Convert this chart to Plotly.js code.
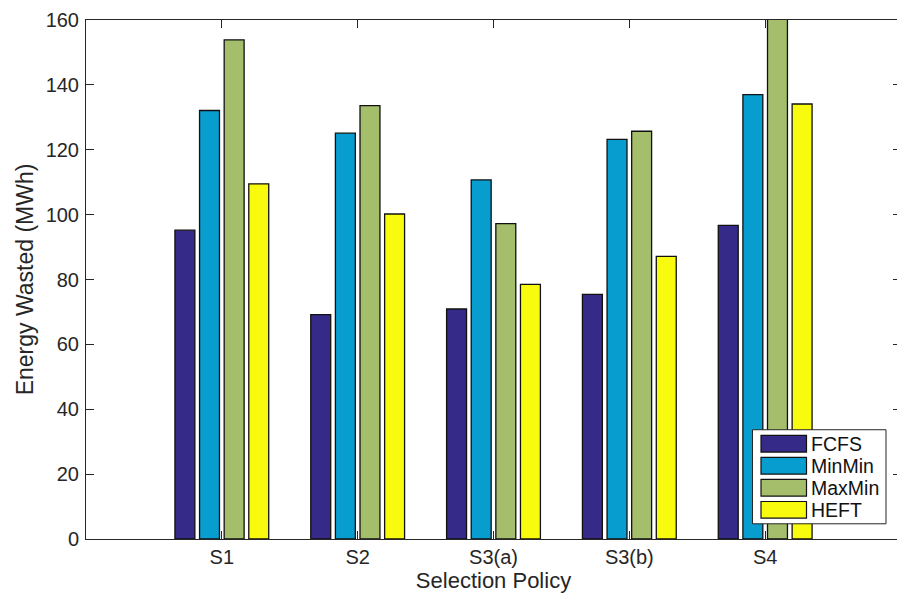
<!DOCTYPE html>
<html>
<head>
<meta charset="utf-8">
<script src="https://cdn.plot.ly/plotly-3.0.1.min.js"></script>
<style>
html,body{margin:0;padding:0;overflow:hidden;background:#fff;}
#chart{width:903px;height:594px;}
</style>
</head>
<body>
<div id="chart"></div>
<script>
const categories = ["S1", "S2", "S3(a)", "S3(b)", "S4"];
const seriesNames = ["FCFS", "MinMin", "MaxMin", "HEFT"];
const fcfs   = [95.2, 69.2, 70.9, 75.4, 96.7];
const minmin = [132.1, 125.1, 110.7, 123.2, 137.0];
const maxmin = [153.9, 133.6, 97.2, 125.7, 162.0];
const heft   = [109.5, 100.2, 78.5, 87.1, 134.1];
const colors = ["#352a87", "#079dcf", "#a5be6b", "#f9fb0e"];
const yTicks = [0, 20, 40, 60, 80, 100, 120, 140, 160];

const seriesValues = [fcfs, minmin, maxmin, heft];
const textColor = "#262626";
const fam = "Liberation Sans, Arial, Helvetica, sans-serif";
const tickFont = {family: fam, size: 20, color: textColor};
const titleFont = {family: fam, size: 22, color: textColor};

const traces = seriesValues.map((vals, i) => ({
  type: "bar",
  name: seriesNames[i],
  x: categories,
  y: vals,
  marker: {color: colors[i], line: {color: "#111", width: 1.3}},
  showlegend: false,
  hoverinfo: "x+y+name"
}));

// Custom MATLAB-style legend (box, wide swatches, labels) in paper coords
const W = 815, H = 518.7, L = 86, T = 20;
const px = x => (x - L) / W;
const py = y => 1 - (y - T) / H;
const shapes = [{
  type: "rect", xref: "paper", yref: "paper",
  x0: px(752.5), x1: px(886), y0: py(523.5), y1: py(429.5),
  line: {color: textColor, width: 1}, fillcolor: "#fff", layer: "above"
}];
const annotations = [];
const rowY = [443.5, 465.5, 487.5, 509.5];
seriesNames.forEach((n, i) => {
  shapes.push({
    type: "rect", xref: "paper", yref: "paper",
    x0: px(761), x1: px(806.5), y0: py(rowY[i] + 8.3), y1: py(rowY[i] - 8.3),
    line: {color: "#111", width: 1.2}, fillcolor: colors[i], layer: "above"
  });
  annotations.push({
    xref: "paper", yref: "paper", x: px(809), y: py(rowY[i] + 0.5),
    xanchor: "left", yanchor: "middle", showarrow: false,
    text: n, font: {family: fam, size: 19.5, color: "#111"}
  });
});

const layout = {
  width: 903, height: 594,
  margin: {l: 86, r: 2, t: 20, b: 55.3},
  paper_bgcolor: "#fff", plot_bgcolor: "#fff",
  font: tickFont,
  barmode: "group",
  bargap: 0.275,
  bargroupgap: 0.19,
  showlegend: false,
  xaxis: {
    type: "category",
    range: [-1, 5],
    showline: true, linecolor: textColor, linewidth: 1,
    mirror: "ticks", ticks: "inside", ticklen: 8, tickcolor: textColor,
    showgrid: false, zeroline: false,
    tickfont: tickFont,
    title: {text: "Selection Policy", font: titleFont, standoff: 2},
    automargin: false
  },
  yaxis: {
    range: [0, 160],
    tickvals: yTicks,
    ticktext: yTicks.map(String),
    showline: true, linecolor: textColor, linewidth: 1,
    mirror: "ticks", ticks: "inside", ticklen: 8, tickcolor: textColor,
    showgrid: false, zeroline: false,
    tickfont: tickFont,
    ticklabelstandoff: 2,
    title: {text: "Energy Wasted (MWh)", font: {family: fam, size: 23, color: textColor}, standoff: 5},
    automargin: false
  },
  shapes: shapes,
  annotations: annotations
};

Plotly.newPlot("chart", traces, layout, {displayModeBar: false, staticPlot: true});
</script>
</body>
</html>
